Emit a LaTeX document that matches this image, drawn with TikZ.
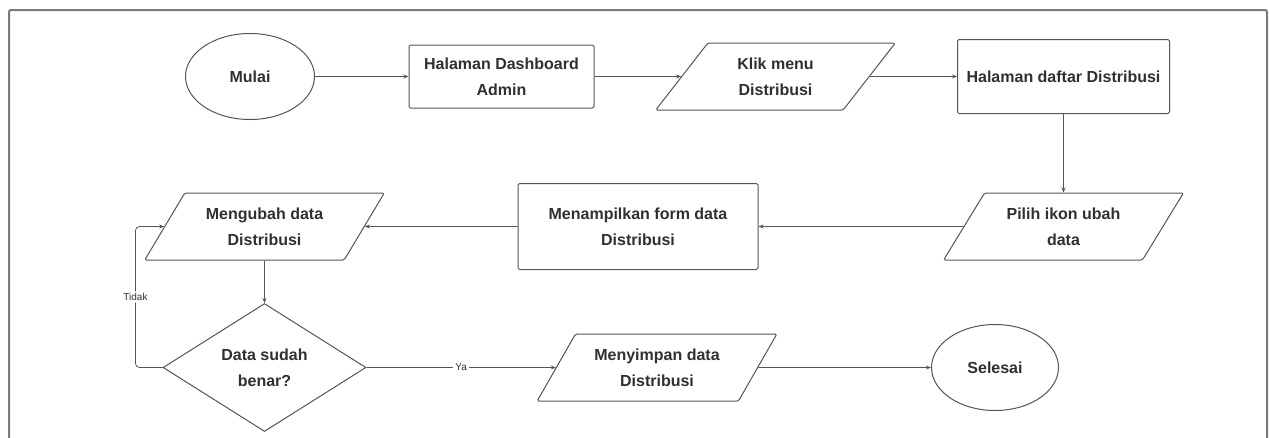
\documentclass[tikz,border=0pt]{standalone}
\usepackage{fontspec}
\setmainfont{Liberation Sans}
\usepackage{tikz}
\usetikzlibrary{shapes.geometric}
\usetikzlibrary{arrows.meta}
\definecolor{linegray}{HTML}{555555}
\definecolor{textgray}{HTML}{303030}
\definecolor{framegray}{HTML}{7A7A7A}
\tikzset{
  base/.style={draw=linegray, line width=1pt, fill=white, text=textgray,
    font=\fontsize{16}{26}\selectfont\bfseries, align=center, inner sep=0pt},
  proc/.style={base, rectangle, rounded corners=1.5pt},
  io/.style={base, trapezium, trapezium left angle=52, trapezium right angle=128,
    trapezium stretches=true, rounded corners=1.5pt, minimum width=240pt, minimum height=67pt},
  term/.style={base, ellipse},
  decision/.style={base, diamond, shape aspect=1.6},
  line/.style={draw=linegray, line width=0.8pt, -{Stealth[length=5pt,width=4pt]}},
  lbl/.style={fill=white, text=textgray, font=\fontsize{10}{12}\selectfont, inner sep=2pt},
}

\begin{document}
\begin{tikzpicture}[x=1pt,y=-1pt]
\useasboundingbox (0,0) rectangle (1269,437);
\draw[framegray, line width=2pt, rounded corners=2pt] (9,440) -- (9,10) -- (1267,10) -- (1267,440);

% baris atas
\node[term, minimum width=129pt, minimum height=86pt] (mulai) at (250,76.5) {Mulai};
\node[proc, minimum width=185pt, minimum height=63pt] (dash) at (501.5,76.5) {Halaman Dashboard\\Admin};
\node[io] (klik) at (775.5,76.5) {Klik menu\\Distribusi};
\node[proc, minimum width=212pt, minimum height=74pt] (daftar) at (1063.5,76.5) {Halaman daftar Distribusi};

% baris tengah
\node[io] (pilih) at (1063.5,226.5) {Pilih ikon ubah\\data};
\node[proc, minimum width=240pt, minimum height=86pt] (tampil) at (638,226.5) {Menampilkan form data\\Distribusi};
\node[io] (ubah) at (264.5,226.5) {Mengubah data\\Distribusi};

% baris bawah
\node[decision, minimum width=203pt, minimum height=128pt] (cek) at (264.5,367.5) {Data sudah\\benar?};
\node[io] (simpan) at (657,367.5) {Menyimpan data\\Distribusi};
\node[term, minimum width=127pt, minimum height=86pt] (selesai) at (995,367.5) {Selesai};

\draw[line] (mulai) -- (dash);
\draw[line] (dash) -- (klik);
\draw[line] (klik) -- (daftar);
\draw[line] (daftar) -- (pilih);
\draw[line] (pilih) -- (tampil);
\draw[line] (tampil) -- (ubah);
\draw[line] (ubah) -- (cek);
\draw[line] (cek) -- node[lbl] {Ya} (simpan);
\draw[line] (simpan) -- (selesai);
\draw[line, rounded corners=4pt] (cek.west) -- ++(-27,0) |- node[lbl, pos=0.25] {Tidak} (ubah.west);
\end{tikzpicture}
\end{document}
